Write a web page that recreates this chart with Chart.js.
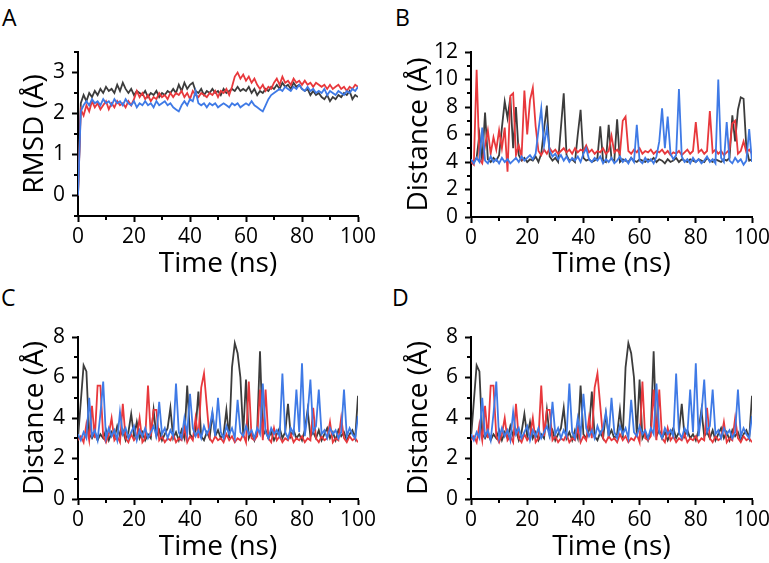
<!DOCTYPE html>
<html>
<head>
<meta charset="utf-8">
<script src="https://cdn.jsdelivr.net/npm/chart.js@4.4.1/dist/chart.umd.min.js"></script>
<style>
  body { margin: 0; background: #fff; width: 769px; height: 563px; overflow: hidden; position: relative; font-family: 'Open Sans', sans-serif; }
  canvas { position: absolute; }
  .letter { position: absolute; font-size: 23px; line-height: 23px; color: #000; }
</style>
</head>
<body>
<div class="letter" style="left:2px;top:6px">A</div>
<div class="letter" style="left:395px;top:6px">B</div>
<div class="letter" style="left:1px;top:286px">C</div>
<div class="letter" style="left:392px;top:286px">D</div>
<canvas id="chartA" width="384" height="280" style="left:0;top:0"></canvas>
<canvas id="chartB" width="385" height="280" style="left:384px;top:0"></canvas>
<canvas id="chartC" width="384" height="283" style="left:0;top:280px"></canvas>
<canvas id="chartD" width="385" height="283" style="left:384px;top:280px"></canvas>
<script>
const timeNs = [0,1,2,3,4,5,6,7,8,9,10,11,12,13,14,15,16,17,18,19,20,21,22,23,24,25,26,27,28,29,30,31,32,33,34,35,36,37,38,39,40,41,42,43,44,45,46,47,48,49,50,51,52,53,54,55,56,57,58,59,60,61,62,63,64,65,66,67,68,69,70,71,72,73,74,75,76,77,78,79,80,81,82,83,84,85,86,87,88,89,90,91,92,93,94,95,96,97,98,99,100];
const timeTicks = [0, 20, 40, 60, 80, 100];
const rmsdTicks = [0, 1, 2, 3];
const distTicksB = [0, 2, 4, 6, 8, 10, 12];
const distTicksCD = [0, 2, 4, 6, 8];

// panel A - RMSD
const rmsdBlack = [0,2.25,2.45,2.3,2.5,2.4,2.55,2.45,2.6,2.5, 2.65,2.55,2.6,2.5,2.7,2.55,2.75,2.6,2.5,2.6, 2.45,2.55,2.5,2.45,2.55,2.4,2.5,2.45,2.55,2.4, 2.5,2.45,2.55,2.5,2.6,2.5,2.7,2.55,2.75,2.6, 2.7,2.75,2.55,2.5,2.6,2.45,2.55,2.5,2.6,2.5, 2.55,2.45,2.6,2.5,2.55,2.6,2.55,2.65,2.55,2.6, 2.55,2.65,2.5,2.6,2.45,2.55,2.5,2.6,2.55,2.65, 2.6,2.7,2.6,2.75,2.65,2.7,2.6,2.75,2.65,2.7, 2.6,2.55,2.6,2.45,2.55,2.45,2.5,2.4,2.35,2.45, 2.3,2.4,2.35,2.45,2.4,2.5,2.45,2.55,2.35,2.45, 2.4];
const rmsdRed = [0,2.1,1.95,2.2,2.05,2.3,2.15,2.25,2.1,2.2, 2.3,2.1,2.25,2.15,2.3,2.2,2.25,2.15,2.3,2.2, 2.35,2.55,2.4,2.5,2.35,2.45,2.3,2.4,2.35,2.5, 2.4,2.45,2.35,2.5,2.4,2.5,2.45,2.55,2.4,2.5, 2.35,2.55,2.45,2.4,2.5,2.45,2.4,2.5,2.45,2.55, 2.4,2.55,2.5,2.6,2.45,2.65,2.9,3.0,2.85,2.95, 2.8,2.9,2.75,2.85,2.7,2.6,2.7,2.55,2.65,2.6, 2.75,2.85,2.7,2.9,2.75,2.8,2.7,2.85,2.75,2.8, 2.7,2.8,2.7,2.75,2.65,2.75,2.7,2.65,2.7,2.6, 2.7,2.6,2.65,2.7,2.6,2.65,2.55,2.65,2.6,2.7, 2.65];
const rmsdBlue = [0,2.05,2.2,2.3,2.2,2.35,2.25,2.3,2.2,2.35, 2.25,2.3,2.2,2.35,2.25,2.3,2.2,2.35,2.25,2.2, 2.3,2.15,2.25,2.2,2.3,2.2,2.25,2.15,2.3,2.2, 2.25,2.3,2.2,2.25,2.15,2.1,2.05,2.2,2.3,2.2, 2.35,2.3,2.55,2.25,2.2,2.25,2.15,2.25,2.2,2.25, 2.15,2.2,2.25,2.2,2.15,2.25,2.2,2.25,2.15,2.2, 2.25,2.2,2.3,2.2,2.15,2.1,2.05,2.2,2.35,2.45, 2.5,2.55,2.6,2.55,2.65,2.6,2.55,2.65,2.6,2.7, 2.6,2.55,2.65,2.55,2.6,2.5,2.55,2.5,2.6,2.45, 2.55,2.5,2.45,2.55,2.5,2.45,2.55,2.5,2.6,2.55, 2.65];

// panel B - distance
const distBlackB = [4.1,4.0,4.3,6.0,4.1,7.6,4.2,4.0,4.3,4.1, 4.5,6.5,8.4,7.2,8.7,5.0,8.0,4.5,4.1,4.3, 4.0,4.2,4.1,4.4,4.0,4.6,6.4,8.1,4.4,4.1, 4.3,4.0,6.5,9.0,4.5,4.1,4.2,4.0,6.0,7.8, 4.3,4.1,4.2,4.0,4.1,4.3,6.6,4.1,4.0,6.7, 4.2,4.1,7.1,4.0,4.2,4.1,4.0,4.3,4.1,4.0, 4.2,4.1,4.0,4.2,4.1,4.3,4.0,4.2,4.1,3.9, 4.2,4.0,4.1,4.3,4.0,4.2,4.1,4.0,4.2,4.1, 4.0,4.2,4.1,4.0,4.3,4.1,4.0,4.2,4.1,4.0, 4.2,4.1,4.3,7.4,5.5,7.8,8.7,8.6,5.0,4.1, 4.2];
const distRedB = [4.0,3.8,10.7,4.2,3.9,5.2,6.3,4.6,5.8,4.9, 6.3,5.0,6.5,3.3,8.8,9.0,4.5,5.2,4.4,9.2, 6.0,8.5,9.4,6.6,4.8,4.5,4.9,4.6,5.0,4.7, 4.9,4.6,4.8,5.0,4.7,4.9,4.6,5.0,4.7,4.9, 4.8,5.2,4.7,4.9,4.6,4.8,4.7,5.0,4.6,4.8, 5.9,4.7,4.9,4.6,7.0,7.3,4.8,4.6,4.9,4.7, 5.0,4.6,4.8,4.7,4.9,4.6,4.8,4.7,4.9,4.6, 4.8,4.5,4.7,4.6,4.8,4.5,4.7,4.9,4.6,4.8, 6.9,4.7,4.9,4.6,4.8,7.7,4.7,4.9,4.6,4.8, 4.5,4.7,4.9,6.8,7.0,4.6,4.8,5.5,4.7,4.9, 4.6];
const distBlueB = [4.2,3.9,4.3,4.0,6.5,4.1,3.9,4.4,4.0,4.2, 3.9,4.3,4.0,4.2,3.9,4.1,4.3,4.0,4.4,4.1, 4.3,4.5,4.2,4.6,6.3,7.9,5.2,6.5,4.8,4.4, 4.6,4.2,4.5,4.1,4.4,4.0,4.3,4.1,4.4,4.0, 4.6,5.0,4.2,4.0,4.3,4.1,4.4,3.9,4.2,4.0, 4.3,3.9,4.1,4.4,4.0,4.2,3.9,4.3,4.0,6.7, 4.1,3.9,4.3,4.0,4.2,3.9,4.4,5.5,7.9,5.0, 7.3,4.6,4.2,4.5,9.3,4.4,4.0,4.2,3.9,4.3, 4.0,4.2,3.9,4.1,4.4,4.0,4.2,3.9,10.0,4.3, 4.0,6.9,4.1,3.9,4.3,4.0,4.2,3.8,4.1,6.4, 4.0];

// panels C and D - distance (same trajectories)
const distBlackC = [3.0,4.8,6.6,6.3,3.2,3.0,3.3,2.9,3.2,3.0, 3.4,2.9,3.3,3.0,3.6,3.1,3.4,2.9,3.3,4.2, 3.1,3.8,3.0,3.3,2.9,3.2,3.0,4.4,3.1,3.4, 2.9,3.2,3.5,4.5,3.0,3.3,2.9,3.4,3.0,5.6, 3.2,3.0,3.4,5.3,3.1,2.9,3.3,3.0,4.2,3.1, 3.4,3.0,3.2,4.4,3.0,6.5,7.7,7.2,6.0,3.2, 5.9,3.0,3.3,2.9,3.4,7.3,3.1,3.4,3.0,3.3, 2.9,3.2,3.5,3.0,3.3,4.7,3.1,3.4,3.0,3.2, 2.9,3.4,4.4,3.1,3.3,3.0,3.4,2.9,3.2,3.5, 3.0,3.3,2.9,3.4,3.1,3.3,2.9,3.2,3.4,3.0, 5.1];
const distRedC = [2.9,3.1,2.8,3.7,2.9,4.6,3.0,5.6,5.6,3.1, 2.8,3.2,4.0,2.9,3.1,2.8,4.7,3.0,2.8,3.2, 2.9,3.1,4.0,2.8,3.0,5.6,3.1,4.4,4.4,2.9, 3.1,2.8,3.0,2.9,3.2,2.8,3.0,2.9,3.5,2.8, 3.1,2.9,4.0,3.0,5.5,6.2,4.6,3.0,2.8,3.1, 2.9,3.0,2.8,3.2,2.9,3.1,2.8,3.0,2.9,3.2, 2.8,5.8,3.0,2.9,3.1,5.4,2.9,5.4,3.0,2.8, 3.5,2.9,3.1,2.8,3.0,2.9,3.2,2.8,3.0,2.9, 3.1,2.8,3.0,2.9,4.5,3.0,2.8,3.1,2.9,3.0, 3.8,2.8,3.0,2.9,4.0,3.0,2.8,3.1,2.9,3.0, 2.8];
const distBlueC = [3.2,2.9,3.3,3.0,5.0,3.1,3.4,2.9,4.2,5.8, 3.0,3.5,3.1,3.4,2.9,4.3,3.2,3.5,3.0,3.3, 3.6,2.9,3.4,3.1,3.5,3.0,3.3,3.6,3.1,4.8, 3.2,3.5,3.0,3.4,3.1,5.7,3.3,3.0,4.0,3.2, 5.2,3.5,3.1,3.4,3.0,3.6,3.2,3.5,4.3,3.1, 5.0,3.3,3.0,3.6,3.2,3.5,3.0,4.9,3.3,3.1, 3.6,3.2,3.4,3.0,3.5,3.2,5.7,3.3,3.0,3.5, 3.2,3.4,3.1,6.2,3.3,3.0,3.5,3.2,5.4,3.3, 6.7,3.1,4.2,5.9,3.3,3.6,5.4,3.2,3.4,3.0, 3.5,3.2,3.4,3.0,3.3,5.4,3.1,3.5,3.2,3.0, 4.1];

const colBlack = '#3c3c3c';
const colRed = '#e8383c';
const colBlue = '#3f7ae6';
const family = "'Open Sans', sans-serif";

// short ticks halfway between the labelled ones
const minorTicks = {
    id: 'minorTicks',
    afterDraw(chart) {
        let ctx = chart.ctx;
        ctx.save();
        ctx.strokeStyle = '#000';
        ctx.lineWidth = 2;
        Object.values(chart.scales).forEach(scale => {
            let vals = scale.ticks.map(t => t.value);
            let half = (vals[1] - vals[0]) / 2;
            let spots = [vals[0] - half].concat(vals.map(v => v + half));
            spots.forEach(v => {
                if (v < scale.min - 1e-6 || v > scale.max + 1e-6) return;
                let p = Math.round(scale.getPixelForValue(v));
                ctx.beginPath();
                if (scale.isHorizontal()) {
                    ctx.moveTo(p, scale.top);
                    ctx.lineTo(p, scale.top + 4);
                } else {
                    ctx.moveTo(scale.right, p);
                    ctx.lineTo(scale.right - 4, p);
                }
                ctx.stroke();
            });
        });
        ctx.restore();
    }
};

function makeChart(id, series, yMin, yMax, yTicks, yTitle, box) {
    new Chart(document.getElementById(id), {
        type: 'line',
        data: {
            labels: timeNs,
            datasets: [
                { data: series[0], borderColor: colBlack, order: 3 },
                { data: series[1], borderColor: colRed, order: 2 },
                { data: series[2], borderColor: colBlue, order: 1 }
            ]
        },
        options: {
            responsive: false,
            animation: false,
            layout: { padding: { top: box.top, right: box.right, left: 0, bottom: 0 } },
            elements: {
                point: { radius: 0 },
                line: { borderWidth: 1.8, tension: 0 }
            },
            plugins: { legend: { display: false }, tooltip: { enabled: false } },
            scales: {
                x: {
                    type: 'linear',
                    min: 0,
                    max: 100,
                    afterBuildTicks: s => { s.ticks = timeTicks.map(v => ({ value: v })); },
                    afterFit: s => { s.height = box.xh; s.paddingLeft = 0; s.paddingRight = 0; },
                    grid: { drawOnChartArea: false, drawTicks: true, tickLength: 6, tickWidth: 2, tickColor: '#000' },
                    border: { display: true, color: '#000', width: 2 },
                    ticks: { color: '#000', font: { size: 21, family: family }, padding: 2, maxRotation: 0, autoSkip: false },
                    title: { display: true, text: 'Time (ns)', color: '#000', font: { size: 28, family: family, lineHeight: 1.1 }, padding: { top: 0, bottom: 1 } }
                },
                y: {
                    min: yMin,
                    max: yMax,
                    afterBuildTicks: s => { s.ticks = yTicks.map(v => ({ value: v })); },
                    afterFit: s => { s.width = box.yw; s.paddingTop = 0; s.paddingBottom = 0; },
                    grid: { drawOnChartArea: false, drawTicks: true, tickLength: 6, tickWidth: 2, tickColor: '#000' },
                    border: { display: true, color: '#000', width: 2 },
                    ticks: { color: '#000', font: { size: 21, family: family }, padding: 7, autoSkip: false },
                    title: { display: true, text: yTitle, color: '#000', font: { size: 28, family: family, lineHeight: 1.1 }, padding: { top: 20, bottom: 0 } }
                }
            }
        },
        plugins: [minorTicks]
    });
}

makeChart('chartA', [rmsdBlack, rmsdRed, rmsdBlue], -0.5, 3.5, rmsdTicks, 'RMSD (Å)', { top: 52, right: 26, xh: 64, yw: 78 });
makeChart('chartB', [distBlackB, distRedB, distBlueB], 0, 12, distTicksB, 'Distance (Å)', { top: 52, right: 17, xh: 63, yw: 87 });
makeChart('chartC', [distBlackC, distRedC, distBlueC], 0, 8, distTicksCD, 'Distance (Å)', { top: 57, right: 26, xh: 64, yw: 78 });
makeChart('chartD', [distBlackC, distRedC, distBlueC], 0, 8, distTicksCD, 'Distance (Å)', { top: 57, right: 17, xh: 64, yw: 87 });
</script>
</body>
</html>
